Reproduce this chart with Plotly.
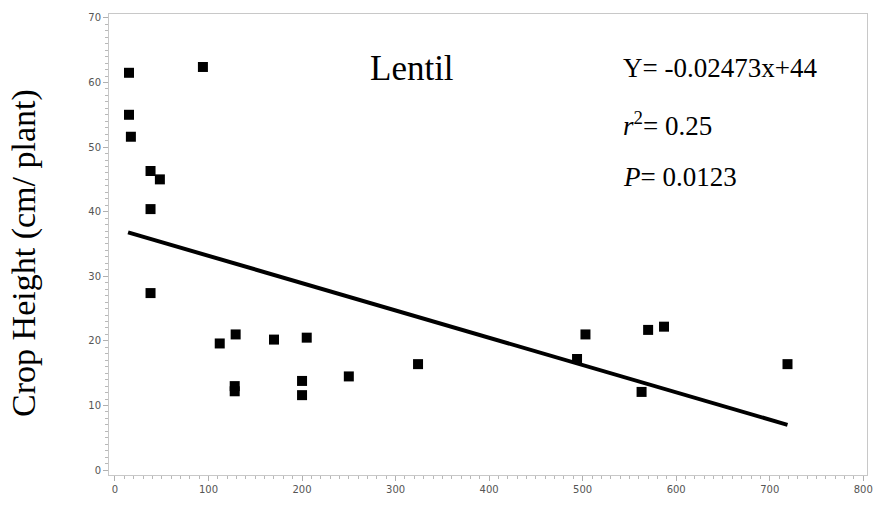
import plotly.graph_objects as go

# Data
dose_x = [15, 15, 17, 38, 48, 38, 38, 94, 112, 129, 128, 128, 170, 200, 200, 205,
          250, 324, 494, 503, 563, 570, 587, 719]
height_y = [61.5, 55.0, 51.6, 46.3, 45.0, 40.4, 27.4, 62.4, 19.6, 21.0, 13.0, 12.2,
            20.2, 13.8, 11.6, 20.5, 14.5, 16.4, 17.2, 21.0, 12.1, 21.7, 22.2, 16.4]

fit_x = [14, 719]
fit_y = [36.8, 7.0]

x_ticks = [0, 100, 200, 300, 400, 500, 600, 700, 800]
y_ticks = [0, 10, 20, 30, 40, 50, 60, 70]

title_text = "Lentil"
eq_text = "Y= -0.02473x+44"
r2_text = "<i>r</i><sup>2</sup>= 0.25"
p_text = "<i>P</i>= 0.0123"
y_title = "Crop Height (cm/ plant)"

serif = "Liberation Serif, Times New Roman, serif"

fig = go.Figure()
fig.add_trace(go.Scatter(x=fit_x, y=fit_y, mode="lines",
                         line=dict(color="black", width=4), showlegend=False))
fig.add_trace(go.Scatter(x=dose_x, y=height_y, mode="markers",
                         marker=dict(symbol="square", size=10, color="black"),
                         showlegend=False))

axis_common = dict(showline=True, linecolor="#c8c8c8", linewidth=1, mirror=True,
                   showgrid=False, zeroline=False, ticks="outside", ticklen=5,
                   tickcolor="#b0b0b0",
                   tickfont=dict(family="DejaVu Sans, sans-serif", size=10, color="#555555"))

fig.update_xaxes(range=[-6.4, 804], tickvals=x_ticks,
                 minor=dict(dtick=10, tick0=0, ticks="outside", ticklen=3, tickcolor="#b8b8b8"),
                 **axis_common)
fig.update_yaxes(range=[-0.76, 70.6], tickvals=y_ticks,
                 minor=dict(dtick=1, tick0=0, ticks="outside", ticklen=3, tickcolor="#b8b8b8"),
                 **axis_common)

fig.add_annotation(x=318, y=62.2, xref="x", yref="y", text=title_text, showarrow=False,
                   font=dict(family=serif, size=35, color="black"))
fig.add_annotation(x=541, y=62.2, xref="x", yref="y", text=eq_text, showarrow=False,
                   xanchor="left", font=dict(family=serif, size=27, color="black"))
fig.add_annotation(x=541, y=53.6, xref="x", yref="y", text=r2_text, showarrow=False,
                   xanchor="left", font=dict(family=serif, size=27, color="black"))
fig.add_annotation(x=541, y=45.4, xref="x", yref="y", text=p_text, showarrow=False,
                   xanchor="left", font=dict(family=serif, size=27, color="black"))
fig.add_annotation(x=-0.112, y=0.482, xref="paper", yref="paper", text=y_title, showarrow=False,
                   textangle=-90, xanchor="center", yanchor="middle",
                   font=dict(family=serif, size=34, color="black"))

fig.update_layout(width=885, height=507, margin=dict(l=109, r=12, t=13, b=27),
                  paper_bgcolor="white", plot_bgcolor="white")

fig.write_html("out.html")
